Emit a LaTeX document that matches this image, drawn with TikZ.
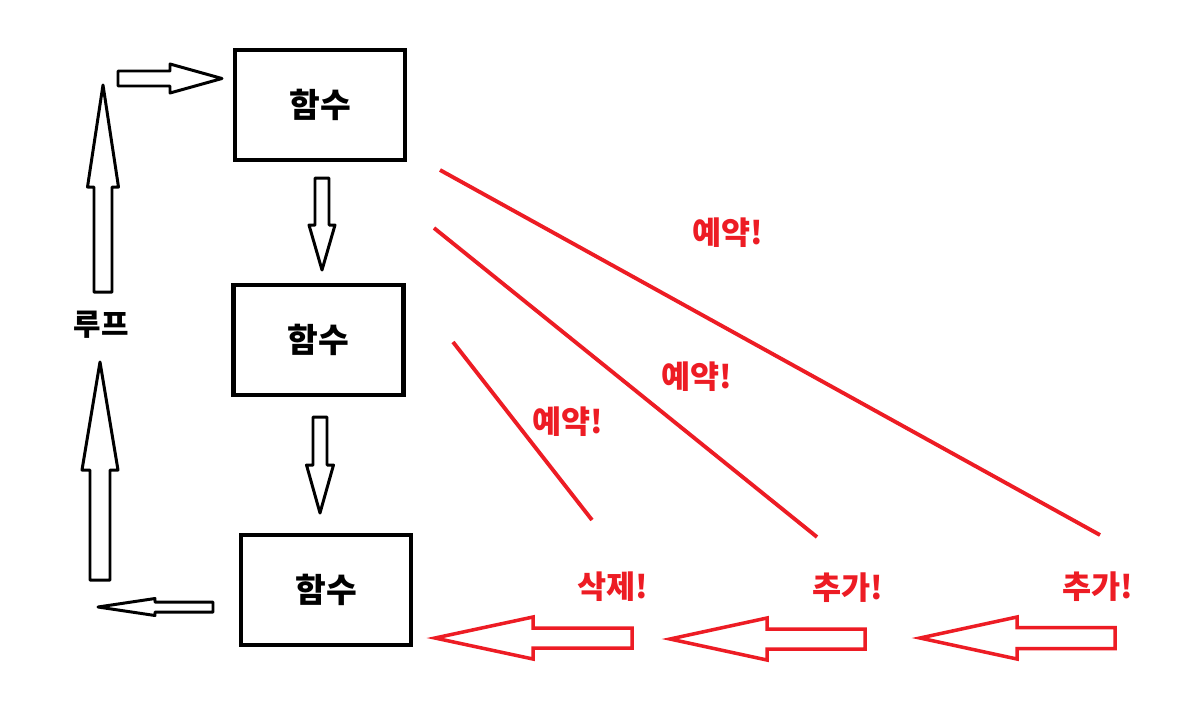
\documentclass[tikz,border=0pt]{standalone}
\usepackage{fontspec}
\newfontfamily\kr{Noto Sans CJK KR}
\usetikzlibrary{positioning}
\definecolor{pred}{RGB}{237,28,36}
\tikzset{
  fn/.style = {draw=black, line width=2.4pt, minimum width=170*0.02cm,
    minimum height=110*0.02cm, inner sep=0pt, font=\kr\bfseries\fontsize{19}{21}\selectfont},
  lbl/.style = {font=\kr\bfseries\fontsize{17}{19}\selectfont, text=black, inner sep=0pt},
  rlbl/.style = {font=\kr\bfseries\fontsize{18}{20}\selectfont, text=pred, inner sep=0pt},
  barw/.style = {draw=black, fill=white, line width=1.7pt, line join=round},
  rbarw/.style = {draw=pred, fill=white, line width=2pt, line join=miter},
  rln/.style = {draw=pred, line width=2.2pt}
}
% hollow block arrow: style, tail, angle, length, head length, shaft half, head half
\newcommand{\barr}[7]{
  \draw [#1, shift={(#2)}, rotate=#3] (0,-#6) -- (#4-#5,-#6) -- (#4-#5,-#7)
    -- (#4,0) -- (#4-#5,#7) -- (#4-#5,#6) -- (0,#6) -- cycle;
}

\begin{document}
\begin{tikzpicture}[x=0.02cm, y=-0.02cm]
  \useasboundingbox [fill=white] (0,0) rectangle (1182,714);
  % functions
  \node [fn] (f1) at (320,105) {함수};
  \node [fn] (f2) at (318.5,340) {함수};
  \node [fn] (f3) at (326,590) {함수};
  \barr{barw}{322,178}{-90}{92}{45}{7}{13}
  \barr{barw}{320,417}{-90}{96}{48}{7}{13.5}
  % loop
  \barr{barw}{213,607}{180}{115}{57}{5}{8.5}
  \barr{barw}{100,580}{90}{218}{108}{10}{18}
  \barr{barw}{103,292}{90}{207}{102}{9}{15.5}
  \barr{barw}{118,78.5}{0}{104}{52}{7.5}{14.5}
  \node [lbl] (loop) at (101,325) {루프};
  % reservations
  \coordinate (a1) at (440,170); \coordinate (b1) at (1100,535);
  \coordinate (a2) at (434,228); \coordinate (b2) at (817,537);
  \coordinate (a3) at (453,342); \coordinate (b3) at (592,520);
  \foreach \i in {1,2,3} \draw [rln] (a\i) -- (b\i);
  \node [rlbl] (r1) at (728,233) {예약!};
  \node [rlbl] (r2) at (697,377) {예약!};
  \node [rlbl] (r3) at (568,422) {예약!};
  % queue
  \barr{rbarw}{632,638}{180}{197}{98}{10}{21}
  \barr{rbarw}{865,639}{180}{195}{97}{10}{21}
  \barr{rbarw}{1115,638}{180}{195}{97}{10.5}{21}
  \node [rlbl] (d1) at (613,587) {삭제!};
  \node [rlbl] (p1) at (848,588) {추가!};
  \node [rlbl] (p2) at (1098,587) {추가!};
\end{tikzpicture}
\end{document}
